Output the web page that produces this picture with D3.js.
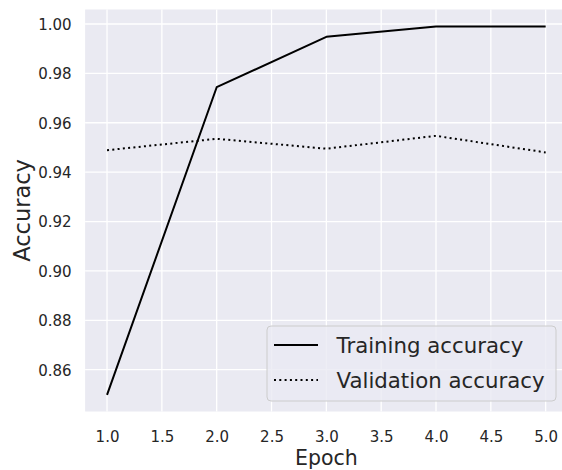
<!DOCTYPE html>
<html>
<head>
<meta charset="utf-8">
<script src="https://cdn.jsdelivr.net/npm/d3@7"></script>
<style>
  html, body { margin: 0; padding: 0; background: #ffffff; }
  svg { display: block; font-family: "DejaVu Sans", sans-serif; }
</style>
</head>
<body>
<svg id="chart" width="562" height="470"></svg>
<script>
const epochs = [1, 2, 3, 4, 5];
const trainingAccuracy = [0.8498, 0.9744, 0.9948, 0.9990, 0.9990];
const validationAccuracy = [0.9489, 0.9535, 0.9495, 0.9547, 0.9480];
const xTicks = [1.0, 1.5, 2.0, 2.5, 3.0, 3.5, 4.0, 4.5, 5.0];
const yTicks = [0.86, 0.88, 0.90, 0.92, 0.94, 0.96, 0.98, 1.00];
const seriesNames = ["Training accuracy", "Validation accuracy"];

const svg = d3.select("#chart");
const plot = { left: 85.1, right: 567.6, top: 9.5, bottom: 411.5 };

const x = d3.scaleLinear().domain([0.8, 5.2]).range([plot.left, plot.right]);
const y = d3.scaleLinear().domain([0.84308, 1.00587]).range([plot.bottom, plot.top]);

const textColor = "#262626";

// background
svg.append("rect")
  .attr("x", plot.left).attr("y", plot.top)
  .attr("width", plot.right - plot.left).attr("height", plot.bottom - plot.top)
  .attr("fill", "#eaeaf2");

// grid
svg.append("g").selectAll("line").data(xTicks).join("line")
  .attr("x1", d => x(d)).attr("x2", d => x(d))
  .attr("y1", plot.top).attr("y2", plot.bottom)
  .attr("stroke", "#ffffff").attr("stroke-width", 1.3);
svg.append("g").selectAll("line").data(yTicks).join("line")
  .attr("y1", d => y(d)).attr("y2", d => y(d))
  .attr("x1", plot.left).attr("x2", plot.right)
  .attr("stroke", "#ffffff").attr("stroke-width", 1.3);

// axes (ticks as labels only)
const xAxis = d3.axisBottom(x).tickValues(xTicks).tickFormat(d3.format(".1f")).tickSize(0).tickPadding(0);
const gx = svg.append("g").attr("transform", `translate(0,${plot.bottom})`).call(xAxis);
gx.select(".domain").remove();
gx.selectAll("text").attr("font-size", 15).attr("fill", textColor)
  .attr("font-family", "DejaVu Sans").attr("dy", null).attr("y", 30.3);

const yAxis = d3.axisLeft(y).tickValues(yTicks).tickFormat(d3.format(".2f")).tickSize(0).tickPadding(0);
const gy = svg.append("g").attr("transform", `translate(${plot.left},0)`).call(yAxis);
gy.select(".domain").remove();
gy.selectAll("text").attr("font-size", 15).attr("fill", textColor)
  .attr("font-family", "DejaVu Sans").attr("x", -13.5).attr("dy", "0.36em");

// axis labels
svg.append("text")
  .attr("x", (plot.left + plot.right) / 2).attr("y", 465)
  .attr("text-anchor", "middle").attr("font-size", 20.5).attr("fill", textColor)
  .text("Epoch");
svg.append("text")
  .attr("transform", `translate(29.5,${(plot.top + plot.bottom) / 2}) rotate(-90)`)
  .attr("text-anchor", "middle").attr("font-size", 22.5).attr("fill", textColor)
  .text("Accuracy");

// lines
const line = d3.line().x((d, i) => x(epochs[i])).y(d => y(d));
svg.append("path").datum(trainingAccuracy)
  .attr("d", line).attr("fill", "none").attr("stroke", "#000000")
  .attr("stroke-width", 2).attr("stroke-linejoin", "round");
svg.append("path").datum(validationAccuracy)
  .attr("d", line).attr("fill", "none").attr("stroke", "#000000")
  .attr("stroke-width", 2).attr("stroke-dasharray", "2,3.3");

// legend
const lg = svg.append("g");
lg.append("rect")
  .attr("x", 267).attr("y", 326).attr("width", 289).attr("height", 75)
  .attr("rx", 4).attr("ry", 4)
  .attr("fill", "#eaeaf2").attr("fill-opacity", 0.8)
  .attr("stroke", "#cccccc").attr("stroke-width", 1);
const rows = [
  { name: seriesNames[0], dash: null, cy: 345 },
  { name: seriesNames[1], dash: "2,3.3", cy: 380 }
];
rows.forEach(r => {
  lg.append("line")
    .attr("x1", 274).attr("x2", 318).attr("y1", r.cy).attr("y2", r.cy)
    .attr("stroke", "#000").attr("stroke-width", 2)
    .attr("stroke-dasharray", r.dash);
  lg.append("text")
    .attr("x", 336.5).attr("y", r.cy).attr("dy", "0.36em")
    .attr("font-size", 21.3).attr("fill", textColor)
    .text(r.name);
});
</script>
</body>
</html>
